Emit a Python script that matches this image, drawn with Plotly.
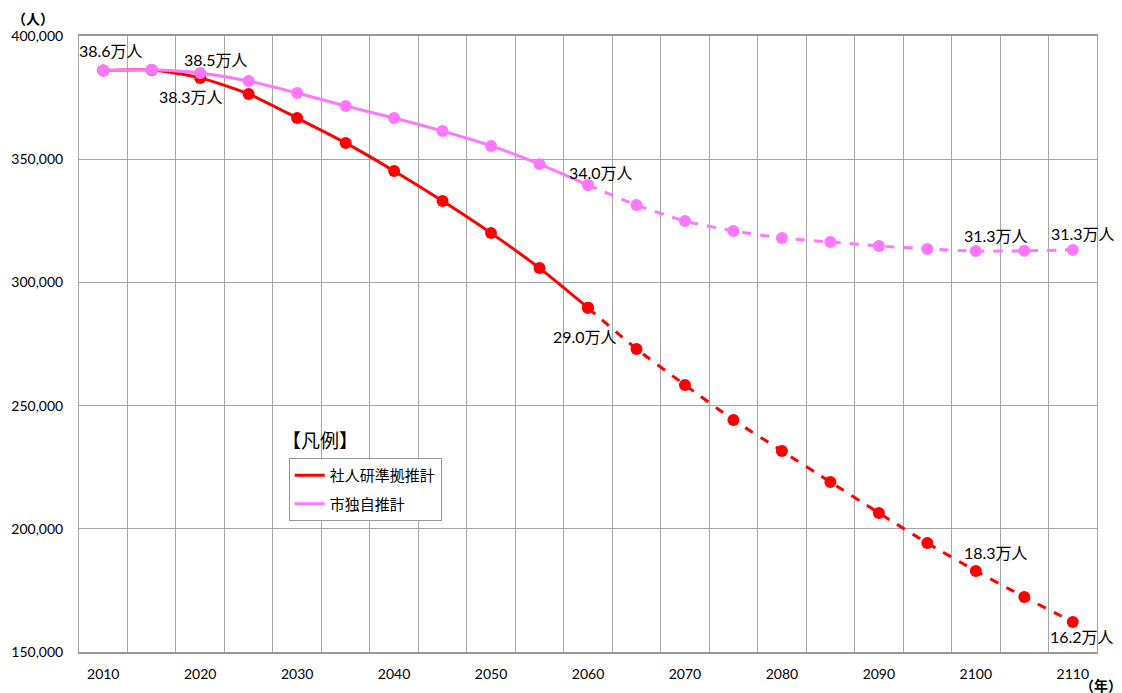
import plotly.graph_objects as go

years = list(range(2010, 2115, 5))
ipss = [386000, 386200, 383000, 376500, 366700, 356600, 345200, 333000, 320000, 305800,
        289700, 273000, 258400, 244200, 231600, 219000, 206400, 194200, 182900, 172300, 162200]
city = [386000, 386300, 385000, 381700, 376900, 371600, 366700, 361400, 355400, 348000,
        339500, 331400, 324900, 320900, 318000, 316400, 314800, 313600, 312700, 312800, 313200]
series_names = ["社人研準拠推計", "市独自推計"]
colors = ["#ff0000", "#ff77ff"]
split_year = 2060
x_ticks = list(range(2010, 2111, 10))
y_ticks = list(range(150000, 400001, 50000))

# data labels: (series index, year, text, xshift, yshift)
labels = [
    (1, 2010, "38.6万人", 8, 20),
    (1, 2020, "38.5万人", 16, 13),
    (0, 2020, "38.3万人", -9, -19),
    (1, 2060, "34.0万人", 13, 13),
    (0, 2060, "29.0万人", -3, -29),
    (1, 2100, "31.3万人", 20, 16),
    (1, 2110, "31.3万人", 10, 16),
    (0, 2100, "18.3万人", 20, 18),
    (0, 2110, "16.2万人", 9, -15),
]

FONT = "Lato, 'Noto Sans CJK JP', sans-serif"
fig = go.Figure()
data_sets = [ipss, city]
k = years.index(split_year)
for i, (name, vals) in enumerate(zip(series_names, data_sets)):
    fig.add_trace(go.Scatter(
        x=years[:k + 1], y=vals[:k + 1], mode="lines+markers", name=name,
        line=dict(color=colors[i], width=3, shape="spline", smoothing=0.6),
        marker=dict(size=12, color=colors[i]), legendgroup=name, showlegend=False))
    fig.add_trace(go.Scatter(
        x=years[k:], y=vals[k:], mode="lines+markers", name=name,
        line=dict(color=colors[i], width=3, dash="dash", shape="spline", smoothing=0.6),
        marker=dict(size=12, color=colors[i]), legendgroup=name, showlegend=False))
    # legend entry (line only)
    fig.add_trace(go.Scatter(
        x=[None], y=[None], mode="lines", name=name,
        line=dict(color=colors[i], width=3), legendgroup=name, showlegend=True))

for si, yr, txt, dx, dy in labels:
    fig.add_annotation(x=yr, y=data_sets[si][years.index(yr)], text=txt, showarrow=False,
                       xshift=dx, yshift=dy, font=dict(size=16, color="#000", family=FONT))

fig.add_annotation(xref="paper", yref="paper", x=0.197, y=0.344, text="【凡例】",
                   showarrow=False, xanchor="left", yanchor="middle",
                   font=dict(size=19, color="#000", family=FONT))
fig.add_annotation(xref="paper", yref="paper", x=-0.068, y=1.0, text="<b>（人）</b>",
                   showarrow=False, xanchor="left", yanchor="top", yshift=28,
                   font=dict(size=14, color="#000", family=FONT))
fig.add_annotation(xref="paper", yref="paper", x=1.027, y=0, text="<b>（年）</b>",
                   showarrow=False, xanchor="right", yanchor="middle", yshift=-33,
                   font=dict(size=14, color="#000", family=FONT))

fig.update_layout(
    width=1114, height=685,
    margin=dict(l=71, r=25, t=28, b=41, autoexpand=False),
    paper_bgcolor="white", plot_bgcolor="white",
    font=dict(family=FONT, size=14, color="#000"),
    showlegend=True,
    legend=dict(x=0.206, y=0.315, xanchor="left", yanchor="top",
                bgcolor="white", bordercolor="#999", borderwidth=1,
                font=dict(size=15, family=FONT), itemwidth=30, tracegroupgap=6),
    xaxis=dict(range=[2007.5, 2112.5], tickvals=x_ticks, ticktext=[str(v) for v in x_ticks],
               showgrid=False, showline=True, linecolor="#999", linewidth=2, mirror=True,
               ticks="outside", ticklen=8, tickcolor="rgba(0,0,0,0)", tickfont=dict(size=14),
               zeroline=False, automargin=False,
               minor=dict(tick0=2007.5, dtick=5, showgrid=True, gridcolor="#a6a6a6", gridwidth=1)),
    yaxis=dict(range=[150000, 400000], tickvals=y_ticks, tickformat=",d",
               showgrid=True, gridcolor="#a6a6a6", gridwidth=1,
               showline=True, linecolor="#a6a6a6", linewidth=1, mirror=True,
               ticks="outside", ticklen=12, tickcolor="rgba(0,0,0,0)", zeroline=False,
               tickfont=dict(size=14), automargin=False),
)

fig.write_html("out.html")
